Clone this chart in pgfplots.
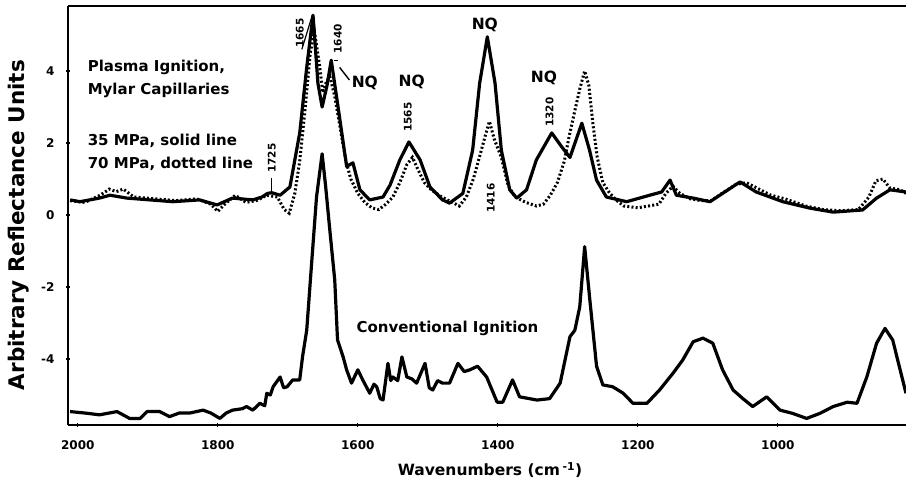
\documentclass[border=0pt]{standalone}
\usepackage{fontspec}
\setmainfont{DejaVu Sans}
\usepackage{pgfplots}
\pgfplotsset{compat=1.18}
\begin{document}
\begin{tikzpicture}
\begin{axis}[
  name=ax,
  scale only axis, width=838pt, height=419pt,
  x dir=reverse, xmin=817, xmax=2014, ymin=-5.833, ymax=5.806,
  separate axis lines, axis x line*=box, axis y line*=left,
  axis line style={line width=1.8pt, black},
  xtick={1000,1200,1400,1600,1800,2000},
  ytick={-4,-2,0,2,4},
  xticklabels={1000,1200,1400,1600,1800,2000},
  yticklabels={-4,-2,0,2,4},
  tick align=center, major tick length=4pt,
  tick style={line width=1.2pt, black},
  xtick pos=bottom, ytick pos=left,
  /pgf/number format/assume math mode=true,
  ticklabel style={font=\fontsize{12}{12}\selectfont\bfseries},
  xticklabel style={yshift=-10pt},
  yticklabel style={xshift=-8pt},
  xlabel={Wavenumbers (cm\,\textsuperscript{-1})},
  ylabel={Arbitrary Reflectance Units},
  xlabel style={font=\fontsize{15.5}{16}\selectfont\bfseries, at={(axis description cs:0.5036,-0.107)}, anchor=center},
  ylabel style={font=\fontsize{21.5}{22}\selectfont\bfseries, at={(axis description cs:-0.0585,0.477)}, anchor=center},
  clip=false,
]
% 35 MPa solid
\addplot[black, line width=3.2pt, line join=round] coordinates {
(2011,0.42)(1997,0.37)(1969,0.47)(1954,0.55)(1930,0.47)(1897,0.42)(1864,0.37)
(1826,0.42)(1801,0.28)(1779,0.47)(1750,0.42)(1737,0.5)(1729,0.6)(1723,0.62)
(1711,0.55)(1697,0.78)(1683,2.28)(1673,4.1)(1664,5.55)(1657,3.66)(1651,3.0)
(1644,3.6)(1638,4.3)(1626,2.7)(1616,1.35)(1607,1.45)(1597,0.7)(1583,0.42)
(1564,0.5)(1554,0.83)(1540,1.53)(1527,2.03)(1511,1.53)(1497,0.78)(1479,0.42)
(1469,0.33)(1450,0.6)(1436,1.8)(1426,3.66)(1415,4.95)(1404,3.66)(1395,1.8)
(1383,0.7)(1373,0.47)(1359,0.7)(1345,1.53)(1323,2.28)(1309,1.9)(1297,1.6)
(1280,2.55)(1269,1.8)(1259,0.97)(1245,0.5)(1216,0.37)(1183,0.55)(1166,0.64)
(1154,0.97)(1145,0.55)(1121,0.47)(1097,0.37)(1079,0.6)(1054,0.92)(1031,0.64)
(993,0.37)(954,0.19)(921,0.08)(879,0.14)(859,0.47)(840,0.7)(817,0.64)
};
% 70 MPa dotted
\addplot[black, line width=3pt, dash pattern=on 2pt off 2.2pt] coordinates {
(2011,0.40)(1990,0.35)(1968,0.55)(1955,0.72)(1945,0.65)(1935,0.72)(1920,0.5)
(1890,0.45)(1860,0.4)(1830,0.45)(1810,0.3)(1800,0.1)(1790,0.3)(1775,0.55)
(1760,0.35)(1745,0.4)(1730,0.55)(1715,0.5)(1705,0.15)(1698,0.05)(1690,0.6)
(1683,1.5)(1675,3.0)(1668,4.5)(1662,5.1)(1655,4.2)(1650,3.4)(1645,3.7)
(1640,3.85)(1633,3.3)(1625,2.4)(1617,1.5)(1610,1.0)(1600,0.6)(1590,0.35)
(1580,0.2)(1570,0.15)(1560,0.3)(1550,0.5)(1540,0.9)(1530,1.4)(1522,1.6)
(1515,1.3)(1505,0.9)(1495,0.7)(1480,0.5)(1465,0.35)(1455,0.25)(1445,0.5)
(1435,1.0)(1425,1.7)(1418,2.2)(1412,2.6)(1405,2.1)(1395,1.6)(1385,0.8)
(1375,0.5)(1360,0.35)(1345,0.25)(1335,0.3)(1325,0.55)(1315,0.9)(1305,1.5)
(1298,2.2)(1290,2.9)(1283,3.5)(1276,4.0)(1270,3.6)(1264,2.5)(1258,1.6)
(1250,0.9)(1240,0.6)(1230,0.4)(1220,0.25)(1200,0.2)(1185,0.25)(1170,0.3)
(1160,0.6)(1150,0.8)(1140,0.6)(1125,0.45)(1110,0.4)(1095,0.4)(1080,0.6)
(1060,0.85)(1045,0.9)(1030,0.75)(1010,0.55)(990,0.45)(960,0.25)(935,0.15)
(910,0.12)(885,0.15)(870,0.5)(860,0.95)(850,1.0)(840,0.75)(825,0.7)(817,0.6)
};
% Conventional
\addplot[black, line width=3.2pt, line join=round] coordinates {
(2011,-5.46)(1990,-5.5)(1969,-5.55)(1944,-5.46)(1926,-5.65)(1911,-5.65)(1901,-5.46)
(1883,-5.46)(1869,-5.6)(1855,-5.5)(1840,-5.5)(1821,-5.42)(1810,-5.5)(1797,-5.65)
(1788,-5.5)(1779,-5.42)(1765,-5.38)(1759,-5.32)(1750,-5.42)(1740,-5.23)(1733,-5.3)
(1730,-4.95)(1725,-5.0)(1721,-4.77)(1711,-4.5)(1706,-4.8)(1701,-4.77)(1693,-4.58)
(1683,-4.58)(1679,-3.94)(1673,-3.2)(1666,-1.34)(1659,0.5)(1651,1.7)(1646,0.8)
(1640,-0.42)(1633,-1.8)(1629,-3.47)(1621,-3.94)(1616,-4.3)(1609,-4.67)(1600,-4.3)
(1593,-4.58)(1583,-4.95)(1577,-4.7)(1573,-4.77)(1568,-5.1)(1564,-5.14)(1557,-4.12)
(1553,-4.6)(1550,-4.5)(1543,-4.6)(1537,-3.94)(1530,-4.5)(1523,-4.55)(1516,-4.67)
(1504,-4.12)(1498,-4.8)(1493,-4.86)(1486,-4.6)(1479,-4.67)(1469,-4.67)(1457,-4.12)
(1448,-4.35)(1440,-4.3)(1429,-4.2)(1416,-4.5)(1401,-5.2)(1393,-5.2)(1379,-4.58)
(1369,-5.05)(1344,-5.14)(1326,-5.1)(1311,-4.67)(1297,-3.38)(1290,-3.2)(1283,-2.55)
(1276,-0.88)(1269,-2.28)(1259,-4.2)(1250,-4.72)(1236,-4.77)(1221,-4.95)(1207,-5.23)
(1187,-5.23)(1169,-4.86)(1150,-4.4)(1136,-4.03)(1121,-3.52)(1107,-3.42)(1093,-3.56)
(1079,-4.3)(1064,-4.86)(1050,-5.1)(1036,-5.32)(1016,-5.05)(997,-5.42)(979,-5.51)
(959,-5.65)(940,-5.51)(921,-5.32)(901,-5.2)(887,-5.23)(873,-4.5)(859,-3.56)
(847,-3.15)(836,-3.47)(817,-4.95)
};
% annotations
\begin{scope}[every node/.style={font=\fontsize{15}{15}\selectfont\bfseries, inner sep=0pt}]
\node[anchor=west] at (axis cs:1986,4.11) {Plasma Ignition,};
\node[anchor=west] at (axis cs:1986,3.47) {Mylar Capillaries};
\node[anchor=west] at (axis cs:1986,2.05) {35 MPa, solid line};
\node[anchor=west] at (axis cs:1986,1.42) {70 MPa, dotted line};
\node[anchor=center] at (axis cs:1472,-3.14) {Conventional Ignition};
\end{scope}
\begin{scope}[every node/.style={font=\fontsize{10.5}{11}\selectfont\bfseries, inner sep=0pt, rotate=90}]
\node at (axis cs:1723,1.58) {1725};
\node at (axis cs:1683,5.05) {1665};
\node at (axis cs:1628.6,4.89) {1640};
\node at (axis cs:1528.6,2.72) {1565};
\node at (axis cs:1410,0.47) {1416};
\node at (axis cs:1326,2.86) {1320};
\end{scope}
\begin{scope}[every node/.style={font=\fontsize{15.5}{16}\selectfont\bfseries, inner sep=0pt}]
\node at (axis cs:1590,3.67) {NQ};
\node at (axis cs:1523,3.69) {NQ};
\node at (axis cs:1418.6,5.28) {NQ};
\node at (axis cs:1334,3.8) {NQ};
\end{scope}
\draw[black, line width=1.5pt] (axis cs:1723,1.03) -- (axis cs:1723,0.61);
\draw[black, line width=1.2pt] (axis cs:1680,4.6) -- (axis cs:1665,5.55);
\draw[black, line width=1.2pt] (axis cs:1629,4.3) -- (axis cs:1634,4.3);
\draw[black, line width=1.4pt] (axis cs:1626,4.1) -- (axis cs:1612,3.75);
\end{axis}
\pgfresetboundingbox
\path ([xshift=-68pt,yshift=-61pt]ax.south west) rectangle ([yshift=6pt]ax.north east);
\end{tikzpicture}
\end{document}
